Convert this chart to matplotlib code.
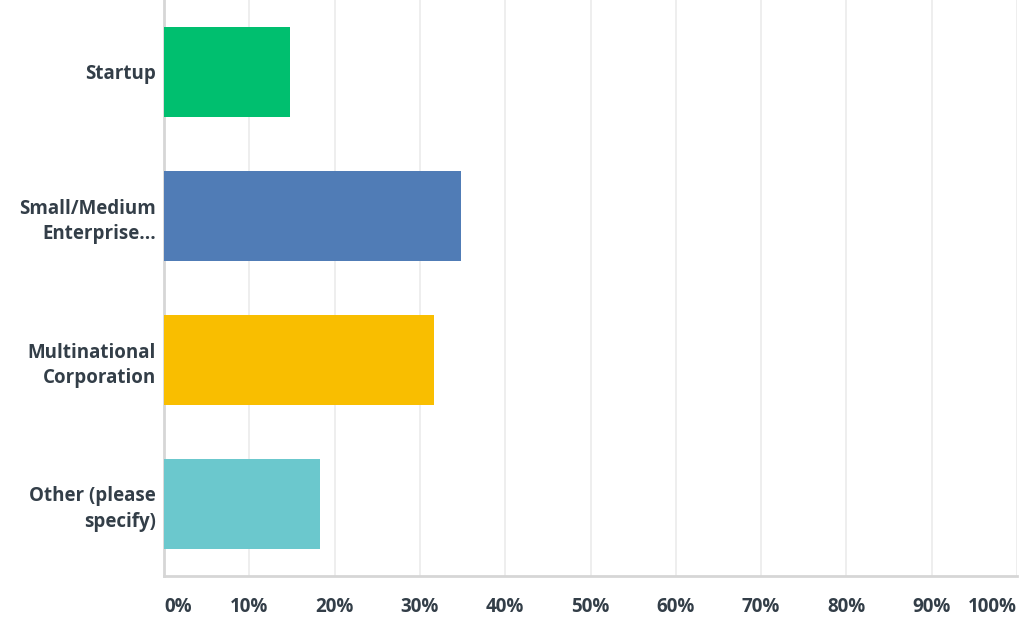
import matplotlib.pyplot as plt
from matplotlib.ticker import FixedLocator

# Datos
categorias = ['Startup', 'Small/Medium\nEnterprise...', 'Multinational\nCorporation', 'Other (please\nspecify)']
porcentajes = [14.8, 34.8, 31.6, 18.3]
colores = ['#00bf6f', '#507cb6', '#f9be00', '#6bc8cd']
ticks_x = [0, 10, 20, 30, 40, 50, 60, 70, 80, 90, 100]
etiquetas_x = ['0%', '10%', '20%', '30%', '40%', '50%', '60%', '70%', '80%', '90%', '100%']

texto = '#333e48'
plt.rcParams['font.family'] = ['Open Sans', 'DejaVu Sans']

fig = plt.figure(figsize=(10.24, 6.38), dpi=100)
ax = fig.add_axes([164 / 1024, 62 / 638, (1017 - 164) / 1024, 576 / 638])

y = list(range(len(categorias)))
ax.barh(y, porcentajes, height=0.625, color=colores, zorder=3)

ax.set_xlim(0, 100)
ax.set_ylim(len(categorias) - 0.5, -0.5)

ax.xaxis.set_major_locator(FixedLocator(ticks_x))
ax.set_xticklabels(etiquetas_x)
ax.set_yticks(y)
ax.set_yticklabels(categorias)

ax.grid(axis='x', color='#ebebeb', linewidth=1.2, zorder=0)
for lado in ['top', 'right']:
    ax.spines[lado].set_visible(False)
for lado in ['left', 'bottom']:
    ax.spines[lado].set_color('#d6d6d6')
    ax.spines[lado].set_linewidth(2)

ax.tick_params(axis='both', length=0, colors=texto, labelsize=13.5)
ax.tick_params(axis='x', pad=15)
ax.tick_params(axis='y', pad=6)
for lab in ax.get_xticklabels() + ax.get_yticklabels():
    lab.set_fontweight('bold')
    lab.set_color(texto)
for lab in ax.get_yticklabels():
    lab.set_linespacing(1.38)

# primera y última etiqueta desplazadas como en el original
xl = ax.get_xticklabels()
xl[0].set_horizontalalignment('left')
xl[-1].set_horizontalalignment('right')

fig.savefig('out.png', dpi=100, facecolor='white')
